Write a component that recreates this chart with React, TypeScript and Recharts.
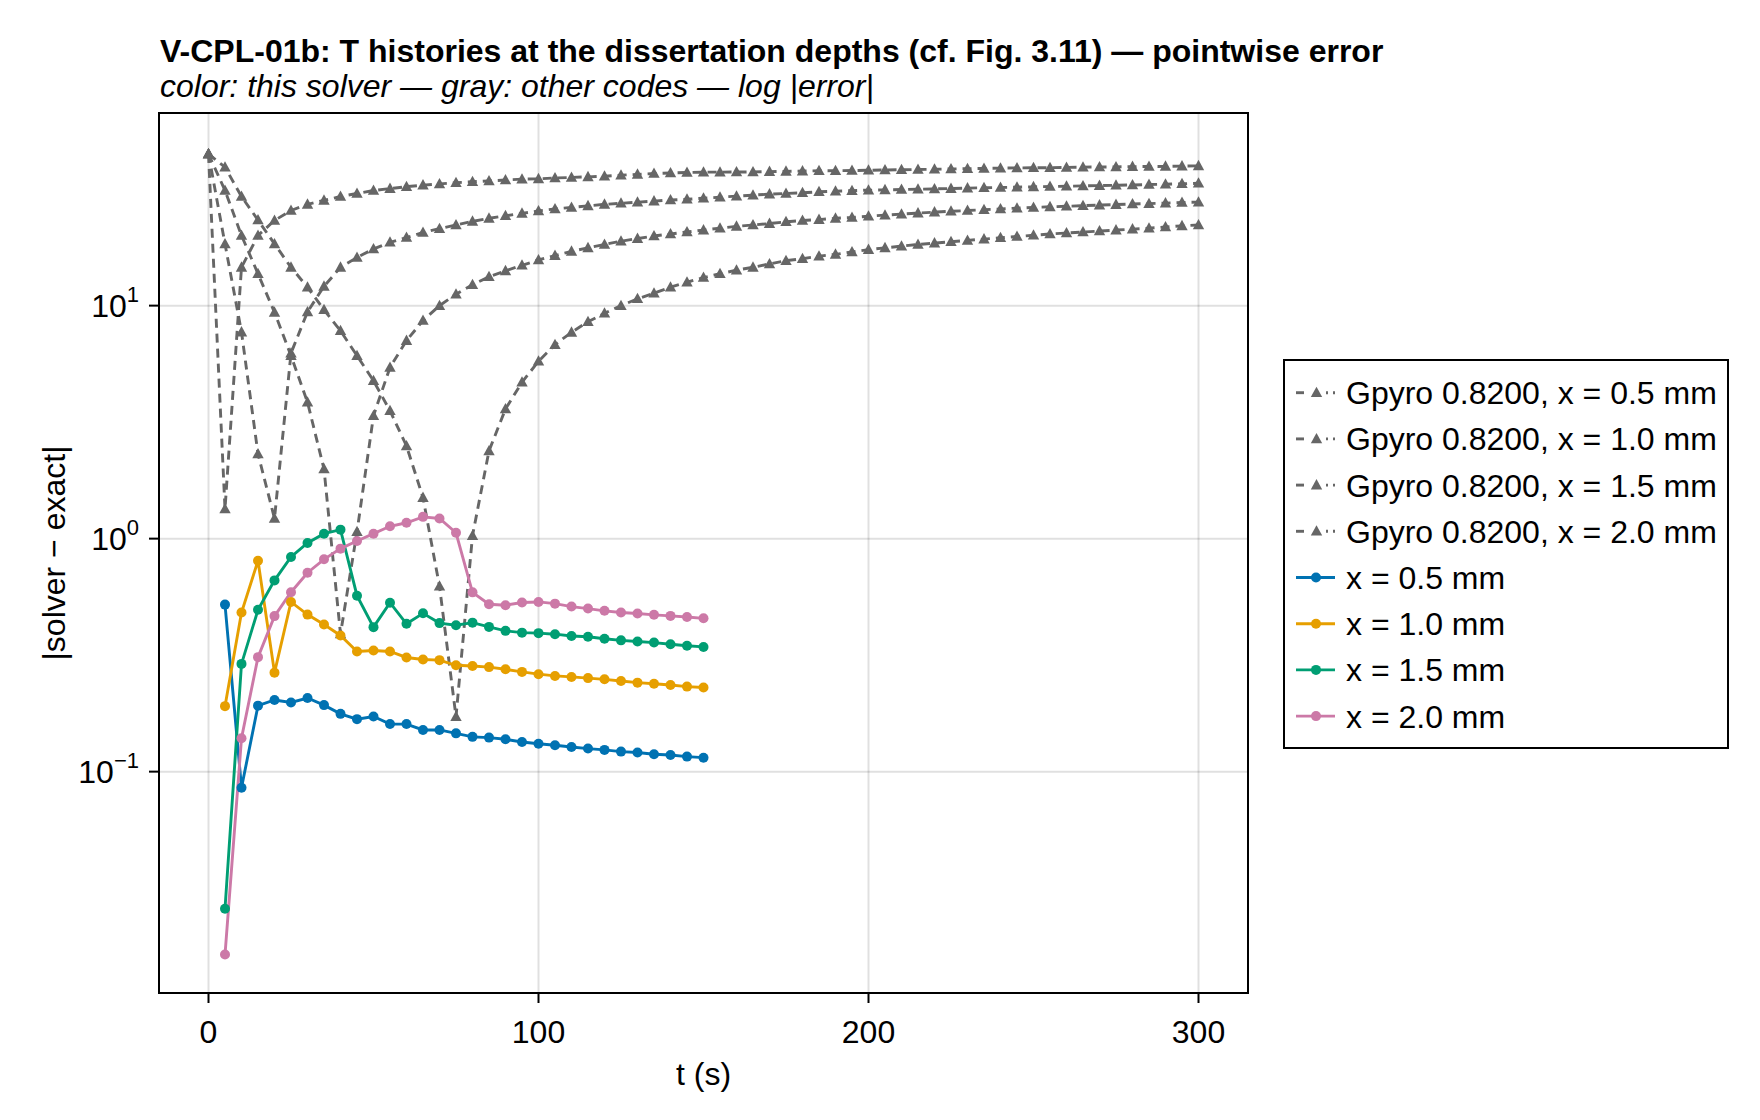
import React from "react"
import { LineChart, Line, XAxis, YAxis, CartesianGrid } from "recharts"

// time stamps (s)
const T_GPYRO = [
    0, 5, 10, 15, 20, 25, 30, 35, 40, 45,
    50, 55, 60, 65, 70, 75, 80, 85, 90, 95,
    100, 105, 110, 115, 120, 125, 130, 135, 140, 145,
    150, 155, 160, 165, 170, 175, 180, 185, 190, 195,
    200, 205, 210, 215, 220, 225, 230, 235, 240, 245,
    250, 255, 260, 265, 270, 275, 280, 285, 290, 295,
    300,
]
const T_SOLVER = [
    5, 10, 15, 20, 25, 30, 35, 40, 45, 50,
    55, 60, 65, 70, 75, 80, 85, 90, 95, 100,
    105, 110, 115, 120, 125, 130, 135, 140, 145, 150,
]

// |solver - exact| for Gpyro 0.8200 (gray)
const GPYRO_05 = [
    44.8, 1.34, 14.6, 20.0, 23.2, 25.6, 27.2, 28.3, 29.4, 30.3,
    31.2, 31.8, 32.4, 32.9, 33.3, 33.7, 34.0, 34.3, 34.6, 34.9,
    35.0, 35.3, 35.5, 35.7, 35.9, 36.3, 36.6, 36.9, 37.1, 37.3,
    37.4, 37.4, 37.45, 37.5, 37.6, 37.7, 37.8, 37.9, 37.95, 38.0,
    38.1, 38.2, 38.3, 38.4, 38.5, 38.6, 38.7, 38.8, 38.9, 39.0,
    39.05, 39.1, 39.2, 39.3, 39.35, 39.4, 39.5, 39.55, 39.6, 39.7,
    39.8,
]
const GPYRO_10 = [
    44.8, 18.4, 7.7, 2.31, 1.22, 6.25, 9.4, 12.1, 14.6, 16.1,
    17.5, 18.7, 19.6, 20.6, 21.4, 22.2, 23.0, 23.7, 24.3, 24.9,
    25.5, 26.0, 26.4, 26.8, 27.2, 27.5, 27.8, 28.1, 28.4, 28.6,
    28.9, 29.2, 29.5, 29.8, 30.1, 30.3, 30.5, 30.8, 31.0, 31.15,
    31.3, 31.4, 31.5, 31.6, 31.7, 31.8, 31.95, 32.05, 32.15, 32.25,
    32.35, 32.45, 32.55, 32.65, 32.75, 32.85, 32.95, 33.1, 33.2, 33.35,
    33.5,
]
const GPYRO_15 = [
    44.8, 31.2, 20.0, 13.7, 9.36, 6.1, 3.85, 1.99, 0.39, 1.07,
    3.37, 5.43, 7.08, 8.63, 10.0, 11.2, 12.3, 13.3, 14.1, 14.9,
    15.7, 16.4, 17.1, 17.7, 18.3, 18.9, 19.4, 19.9, 20.3, 20.7,
    21.1, 21.5, 21.9, 22.2, 22.5, 22.9, 23.2, 23.4, 23.7, 23.9,
    24.2, 24.45, 24.7, 24.95, 25.2, 25.4, 25.6, 25.8, 26.0, 26.2,
    26.4, 26.55, 26.7, 26.85, 27.0, 27.15, 27.3, 27.4, 27.55, 27.7,
    27.8,
]
const GPYRO_20 = [
    44.8, 39.3, 29.4, 23.3, 18.4, 14.6, 12.0, 9.6, 7.8, 6.1,
    4.76, 3.54, 2.5, 1.5, 0.625, 0.172, 1.03, 2.38, 3.6, 4.69,
    5.77, 6.8, 7.68, 8.53, 9.27, 10.0, 10.7, 11.3, 12.0, 12.6,
    13.2, 13.7, 14.2, 14.6, 15.1, 15.6, 15.9, 16.3, 16.6, 17.0,
    17.4, 17.7, 18.0, 18.3, 18.55, 18.8, 19.05, 19.3, 19.55, 19.8,
    20.05, 20.3, 20.5, 20.7, 20.9, 21.1, 21.3, 21.5, 21.75, 22.0,
    22.2,
]

// |solver - exact| for this solver (colour)
const SOLVER_05 = [
    0.521, 0.0853, 0.192, 0.203, 0.198, 0.207, 0.193, 0.177, 0.168, 0.1725,
    0.160, 0.160, 0.151, 0.151, 0.146, 0.141, 0.140, 0.1377, 0.134, 0.1318,
    0.1298, 0.1276, 0.1256, 0.124, 0.1219, 0.1208, 0.1187, 0.1179, 0.116, 0.1148,
]
const SOLVER_10 = [
    0.191, 0.482, 0.804, 0.266, 0.535, 0.472, 0.428, 0.384, 0.328, 0.331,
    0.328, 0.309, 0.303, 0.301, 0.286, 0.284, 0.281, 0.275, 0.268, 0.262,
    0.2575, 0.255, 0.252, 0.249, 0.245, 0.241, 0.2385, 0.2355, 0.2317, 0.2296,
]
const SOLVER_15 = [
    0.0258, 0.290, 0.495, 0.662, 0.834, 0.958, 1.05, 1.093, 0.569, 0.417,
    0.531, 0.431, 0.478, 0.434, 0.425, 0.436, 0.418, 0.402, 0.395, 0.393,
    0.389, 0.382, 0.379, 0.372, 0.366, 0.362, 0.358, 0.352, 0.347, 0.343,
]
const SOLVER_20 = [
    0.0164, 0.139, 0.31, 0.465, 0.589, 0.714, 0.815, 0.906, 0.977, 1.05,
    1.13, 1.17, 1.24, 1.22, 1.06, 0.588, 0.523, 0.518, 0.532, 0.535,
    0.526, 0.511, 0.501, 0.49, 0.482, 0.477, 0.471, 0.466, 0.461, 0.455,
]

const X_TICKS = [0, 100, 200, 300]
const Y_TICKS = [0.1, 1, 10]
const Y_TICK_EXP = ["\u22121", "0", "1"]

const GRAY = "#666666"
const FONT = "'Liberation Sans', Arial, Helvetica, sans-serif"

const GPYRO_SERIES = [
    { name: "Gpyro 0.8200, x = 0.5 mm", values: GPYRO_05 },
    { name: "Gpyro 0.8200, x = 1.0 mm", values: GPYRO_10 },
    { name: "Gpyro 0.8200, x = 1.5 mm", values: GPYRO_15 },
    { name: "Gpyro 0.8200, x = 2.0 mm", values: GPYRO_20 },
]
const SOLVER_SERIES = [
    { name: "x = 0.5 mm", color: "#0072B2", values: SOLVER_05 },
    { name: "x = 1.0 mm", color: "#E69F00", values: SOLVER_10 },
    { name: "x = 1.5 mm", color: "#009E73", values: SOLVER_15 },
    { name: "x = 2.0 mm", color: "#CC79A7", values: SOLVER_20 },
]

const toRows = (ts: number[], vs: number[]) => ts.map((t, i) => ({ t, v: vs[i] }))

// plot box in page pixels
const W = 1760
const H = 1120
const PLOT_L = 159
const PLOT_R = 1248
const PLOT_T = 113
const PLOT_B = 993

const LINE_W = 2.9
const DOT_R = 5
const TRI = 6

const triPath = (cx: number, cy: number, s = TRI) =>
    `M${cx},${cy - s}L${cx + s * 0.95},${cy + s * 0.72}L${cx - s * 0.95},${cy + s * 0.72}Z`

const TriangleDot = (props: any) => {
    const { cx, cy, index } = props
    if (cx == null || cy == null) return <g key={`t-${index}`} />
    return <path key={`t-${index}`} d={triPath(cx, cy)} fill={GRAY} />
}

const XTick = (props: any) => {
    const { x, payload } = props
    return (
        <text x={x} y={1043} textAnchor="middle" fontFamily={FONT} fontSize={32} fill="#000">
            {payload.value}
        </text>
    )
}

const YTick = (props: any) => {
    const { y, payload } = props
    const i = Y_TICKS.indexOf(payload.value)
    return (
        <text x={139} y={y} textAnchor="end" dominantBaseline="central" fontFamily={FONT} fontSize={32} fill="#000">
            <tspan>10</tspan>
            <tspan fontSize={22} dy={-12}>{Y_TICK_EXP[i]}</tspan>
        </text>
    )
}

function Overlay() {
    const rowY = (i: number) => 392.7 + 46.2 * i
    return (
        <svg width={W} height={H} style={{ position: "absolute", left: 0, top: 0, pointerEvents: "none" }}>
            <text x={160} y={62} fontFamily={FONT} fontSize={32} fontWeight="bold" fill="#000">
                V-CPL-01b: T histories at the dissertation depths (cf. Fig. 3.11) — pointwise error
            </text>
            <text x={160} y={97} fontFamily={FONT} fontSize={32} fontStyle="italic" fill="#000">
                color: this solver — gray: other codes — log |error|
            </text>
            <rect x={PLOT_L} y={PLOT_T} width={PLOT_R - PLOT_L} height={PLOT_B - PLOT_T} fill="none" stroke="#000" strokeWidth={2} />
            <text x={(PLOT_L + PLOT_R) / 2} y={1085} textAnchor="middle" fontFamily={FONT} fontSize={32} fill="#000">
                t (s)
            </text>
            <text
                x={54}
                y={(PLOT_T + PLOT_B) / 2}
                textAnchor="middle"
                dominantBaseline="central"
                transform={`rotate(-90, 54, ${(PLOT_T + PLOT_B) / 2})`}
                fontFamily={FONT}
                fontSize={32}
                fill="#000"
            >
                |solver − exact|
            </text>

            {/* legend */}
            <rect x={1284} y={360} width={444} height={388} fill="#fff" stroke="#000" strokeWidth={2} />
            {GPYRO_SERIES.map((s, i) => (
                <g key={s.name}>
                    <line x1={1296} x2={1304} y1={rowY(i)} y2={rowY(i)} stroke={GRAY} strokeWidth={LINE_W} />
                    <path d={triPath(1316.5, rowY(i))} fill={GRAY} />
                    <line x1={1326} x2={1328} y1={rowY(i)} y2={rowY(i)} stroke={GRAY} strokeWidth={LINE_W} />
                    <line x1={1333} x2={1335} y1={rowY(i)} y2={rowY(i)} stroke={GRAY} strokeWidth={LINE_W} />
                    <text x={1346} y={rowY(i) + 11.5} fontFamily={FONT} fontSize={32} fill="#000">{s.name}</text>
                </g>
            ))}
            {SOLVER_SERIES.map((s, j) => {
                const y = rowY(j + 4)
                return (
                    <g key={s.name}>
                        <line x1={1296} x2={1335} y1={y} y2={y} stroke={s.color} strokeWidth={LINE_W} />
                        <circle cx={1316} cy={y} r={DOT_R} fill={s.color} />
                        <text x={1346} y={y + 11.5} fontFamily={FONT} fontSize={32} fill="#000">{s.name}</text>
                    </g>
                )
            })}
        </svg>
    )
}

export default function App() {
    return (
        <div style={{ position: "absolute", left: 0, top: 0, width: W, height: H, background: "#fff" }}>
            <LineChart
                width={W}
                height={H}
                margin={{ top: PLOT_T, right: W - PLOT_R, bottom: 0, left: 0 }}
            >
                <CartesianGrid stroke="rgba(0,0,0,0.12)" strokeWidth={2} />
                <XAxis
                    type="number"
                    dataKey="t"
                    domain={[-15, 315]}
                    ticks={X_TICKS}
                    allowDataOverflow
                    height={H - PLOT_B}
                    axisLine={false}
                    tickSize={10}
                    tickLine={{ stroke: "#000", strokeWidth: 2 }}
                    tick={<XTick />}
                />
                <YAxis
                    type="number"
                    scale="log"
                    domain={[0.01122, 67.1]}
                    ticks={Y_TICKS}
                    allowDataOverflow
                    width={PLOT_L}
                    axisLine={false}
                    tickSize={10}
                    tickLine={{ stroke: "#000", strokeWidth: 2 }}
                    tick={<YTick />}
                />
                {GPYRO_SERIES.map((s) => (
                    <Line
                        key={s.name}
                        data={toRows(T_GPYRO, s.values)}
                        dataKey="v"
                        name={s.name}
                        stroke={GRAY}
                        strokeWidth={LINE_W}
                        strokeDasharray="9 6"
                        dot={TriangleDot}
                        activeDot={false}
                        isAnimationActive={false}
                    />
                ))}
                {SOLVER_SERIES.map((s) => (
                    <Line
                        key={s.name}
                        data={toRows(T_SOLVER, s.values)}
                        dataKey="v"
                        name={s.name}
                        stroke={s.color}
                        strokeWidth={LINE_W}
                        dot={{ r: DOT_R, fill: s.color, stroke: "none" }}
                        activeDot={false}
                        isAnimationActive={false}
                    />
                ))}
            </LineChart>
            <Overlay />
        </div>
    )
}
